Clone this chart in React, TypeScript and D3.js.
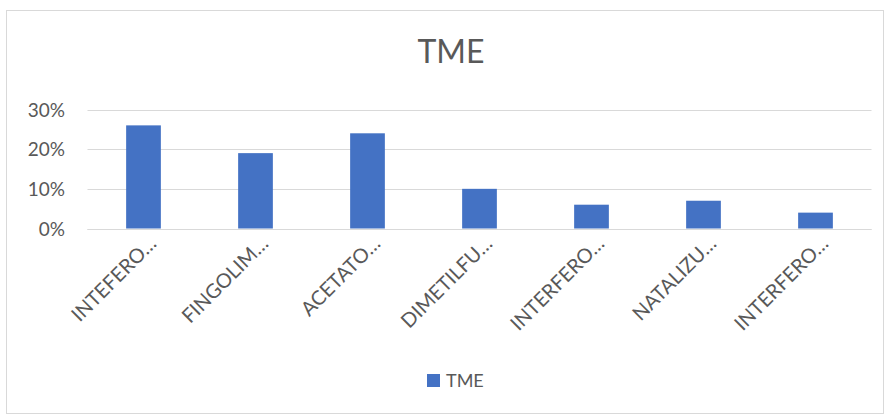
import * as d3 from 'd3';
import { useRef, useEffect } from 'react';

const categories = ['INTEFERO…', 'FINGOLIM…', 'ACETATO…', 'DIMETILFU…', 'INTERFERO…', 'NATALIZU…', 'INTERFERO…'];
const tmeValues = [0.26, 0.19, 0.24, 0.1, 0.06, 0.07, 0.04];
const yTicks = [0, 0.1, 0.2, 0.3];
const seriesName = 'TME';

export default function App() {
  const svgRef = useRef<SVGSVGElement>(null);
  const width = 891;
  const height = 415;
  const font = 'Lato, "Open Sans", sans-serif';
  const textColor = '#595959';

  useEffect(() => {
    const svg = d3.select(svgRef.current);
    svg.selectAll('*').remove();

    // chart frame
    svg.append('rect')
      .attr('x', 6.5).attr('y', 10.5)
      .attr('width', 877).attr('height', 403)
      .attr('fill', '#fff')
      .attr('stroke', '#d9d9d9');

    const x = d3.scaleBand().domain(categories.map((c, i) => i + '')).range([87.5, 871.5]).paddingInner(0.69).paddingOuter(0.345);
    const y = d3.scaleLinear().domain([0, 0.3]).range([228.5, 109.5]);

    const g = svg.append('g');

    g.selectAll('line.grid')
      .data(yTicks)
      .join('line')
      .attr('class', 'grid')
      .attr('x1', 87.5).attr('x2', 871.5)
      .attr('y1', (d) => Math.round(y(d)) + 0.5)
      .attr('y2', (d) => Math.round(y(d)) + 0.5)
      .attr('stroke', '#d9d9d9')
      .attr('stroke-width', 1);

    g.selectAll('text.ytick')
      .data(yTicks)
      .join('text')
      .attr('class', 'ytick')
      .attr('x', 65)
      .attr('y', (d) => y(d) + 7)
      .attr('text-anchor', 'end')
      .attr('font-family', font)
      .attr('font-size', 19)
      .attr('fill', textColor)
      .text((d) => d3.format('.0%')(d));

    g.selectAll('rect.bar')
      .data(tmeValues)
      .join('rect')
      .attr('class', 'bar')
      .attr('x', (d, i) => x(i + '')!)
      .attr('y', (d) => y(d))
      .attr('width', x.bandwidth())
      .attr('height', (d) => y(0) - y(d))
      .attr('fill', '#4472c4');

    // redraw baseline over bars
    g.append('line')
      .attr('x1', 87.5).attr('x2', 871.5)
      .attr('y1', Math.round(y(0)) + 0.5).attr('y2', Math.round(y(0)) + 0.5)
      .attr('stroke', '#d9d9d9');

    g.selectAll('text.xlabel')
      .data(categories)
      .join('text')
      .attr('class', 'xlabel')
      .attr('transform', (d, i) => {
        const cx = x(i + '')! + x.bandwidth() / 2 + 14;
        return `translate(${cx},${245}) rotate(-45)`;
      })
      .attr('text-anchor', 'end')
      .attr('font-family', font)
      .attr('font-size', 20)
      .attr('fill', textColor)
      .text((d) => d);

    svg.append('text')
      .attr('x', 451).attr('y', 63)
      .attr('text-anchor', 'middle')
      .attr('font-family', font)
      .attr('font-size', 32)
      .attr('fill', textColor)
      .text(seriesName);

    const legend = svg.append('g').attr('transform', 'translate(427,374)');
    legend.append('rect').attr('width', 13).attr('height', 13).attr('fill', '#4472c4');
    legend.append('text')
      .attr('x', 19).attr('y', 13)
      .attr('font-family', font)
      .attr('font-size', 18)
      .attr('fill', textColor)
      .text(seriesName);
  });

  return (
    <svg ref={svgRef} width={width} height={height} style={{ position: 'absolute', left: 0, top: 0 }} />
  );
}
